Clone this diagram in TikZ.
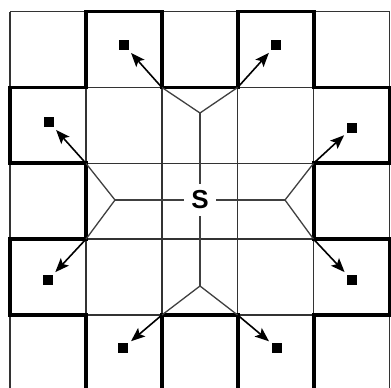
\documentclass[tikz,border=0pt]{standalone}
\usepackage{fontspec}
\setmainfont{Liberation Sans}
\usetikzlibrary{arrows.meta}
\begin{document}
\begin{tikzpicture}[x=1pt,y=-1pt,
  thingrid/.style={draw=black!80, line width=1.5pt},
  thickoutline/.style={draw=black, line width=3.8pt, line join=miter},
  treeline/.style={draw=black!75, line width=1.3pt},
  arr/.style={draw=black, line width=1.6pt, -{Stealth[length=14pt,width=11pt,inset=3pt]}, shorten >=4pt},
  tgt/.style={fill=black, minimum size=9.5pt, inner sep=0pt},
  src/.style={circle, minimum size=32pt, inner sep=0pt, font=\bfseries\fontsize{26}{26}\selectfont}]
\useasboundingbox (0,0) rectangle (391,388);
\clip (0,0) rectangle (391,388);
\fill[white] (0,0) rectangle (391,388);
\begin{scope}[shift={(10,11.5)}, x=75.9pt, y=-75.9pt]
  \foreach \i in {0,...,5} {
    \draw[thingrid] (\i,0) -- (\i,5);
    \draw[thingrid] (0,\i) -- (5,\i);
  }
  \draw[thickoutline] (1,0) -- (2,0) -- (2,1) -- (3,1) -- (3,0) -- (4,0) -- (4,1) -- (5,1) -- (5,2) -- (4,2) -- (4,3) -- (5,3) -- (5,4) -- (4,4) -- (4,5) -- (3,5) -- (3,4) -- (2,4) -- (2,5) -- (1,5) -- (1,4) -- (0,4) -- (0,3) -- (1,3) -- (1,2) -- (0,2) -- (0,1) -- (1,1) -- cycle;
  \coordinate (c1) at (2,1);
  \coordinate (c2) at (3,1);
  \coordinate (c3) at (1,2);
  \coordinate (c4) at (4,2);
  \coordinate (c5) at (1,3);
  \coordinate (c6) at (4,3);
  \coordinate (c7) at (2,4);
  \coordinate (c8) at (3,4);
\end{scope}
% source and branch points
\node[src] (s) at (200,200) {S};
\coordinate (bu) at (200,113);
\coordinate (bl) at (115,200);
\coordinate (br) at (285,200);
\coordinate (bd) at (200,286);
\draw[treeline] (s) -- (bu);
\draw[treeline] (s) -- (bl);
\draw[treeline] (s) -- (br);
\draw[treeline] (s) -- (bd);
\draw[treeline] (c1) -- (bu) -- (c2);
\draw[treeline] (c3) -- (bl) -- (c5);
\draw[treeline] (c4) -- (br) -- (c6);
\draw[treeline] (c7) -- (bd) -- (c8);
% targets
\node[tgt] (t1) at (124,45) {};
\node[tgt] (t2) at (276,45) {};
\node[tgt] (t3) at (49,122) {};
\node[tgt] (t4) at (352,128) {};
\node[tgt] (t5) at (48,280) {};
\node[tgt] (t6) at (352,280) {};
\node[tgt] (t7) at (123,348) {};
\node[tgt] (t8) at (277,348) {};
% arrows
\draw[arr] (c1) -- (t1);
\draw[arr] (c2) -- (t2);
\draw[arr] (c3) -- (t3);
\draw[arr] (c4) -- (t4);
\draw[arr] (c5) -- (t5);
\draw[arr] (c6) -- (t6);
\draw[arr] (c7) -- (t7);
\draw[arr] (c8) -- (t8);
\end{tikzpicture}
\end{document}
